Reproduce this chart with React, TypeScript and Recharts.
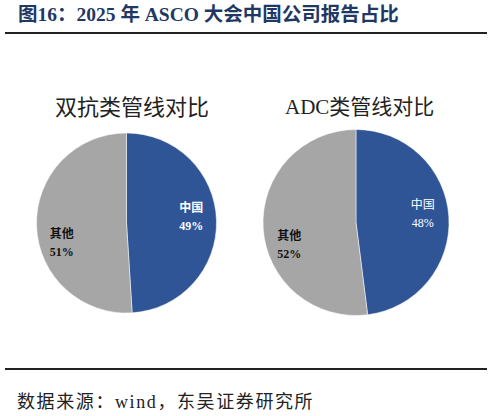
import React from 'react';
import { PieChart, Pie, Cell } from 'recharts';

// 双抗类 / ADC类 管线中国公司占比 (%)
const categories = ['中国', '其他'];
const bispecificValues = [49, 51];
const adcValues = [48, 52];

const COLORS = ['#2F5597', '#A6A6A6'];
const FONT = '"Liberation Serif", "Times New Roman", "Noto Sans CJK SC", serif';
const RADIAN = Math.PI / 180;

const toRows = (values: number[]) => categories.map((name, i) => ({ name, value: values[i] }));

const bispecificData = toRows(bispecificValues);
const adcData = toRows(adcValues);

function makeLabel(boldChina: boolean) {
  return (props: any) => {
    const { cx, cy, midAngle, outerRadius, name, value, index } = props;
    const r = outerRadius * 0.72;
    const x = cx + r * Math.cos(-midAngle * RADIAN);
    const y = cy + r * Math.sin(-midAngle * RADIAN) + (index === 1 ? 17 : -5);
    const isChina = index === 0;
    const bold = isChina ? boldChina : true;
    return (
      <text
        x={x}
        y={y}
        textAnchor="middle"
        fill={isChina ? '#ffffff' : '#111111'}
        fontSize={12}
        fontWeight={bold ? 700 : 400}
        fontFamily={FONT}
      >
        <tspan x={x} dy={-4}>{name}</tspan>
        <tspan x={x} dy={18}>{`${value}%`}</tspan>
      </text>
    );
  };
}

const textBase: React.CSSProperties = {
  position: 'absolute',
  whiteSpace: 'nowrap',
  lineHeight: 1,
  fontFamily: FONT,
};

export default function App() {
  return (
    <div style={{ position: 'absolute', left: 0, top: 0, width: 492, height: 416, background: '#fff', overflow: 'hidden' }}>
      <div style={{ ...textBase, left: 18, top: 5, fontSize: 19.5, fontWeight: 700, color: '#1F3864' }}>
        图16：2025 年 ASCO 大会中国公司报告占比
      </div>
      <div style={{ position: 'absolute', left: 5, top: 32, width: 482, height: 2, background: '#222' }} />

      <div style={{ ...textBase, left: 55, top: 97, fontSize: 22, color: '#222' }}>双抗类管线对比</div>
      <div style={{ ...textBase, left: 285, top: 97, fontSize: 21, color: '#222' }}>ADC类管线对比</div>

      <div style={{ position: 'absolute', left: 0, top: 0 }}>
        <PieChart width={492} height={416} margin={{ top: 0, right: 0, bottom: 0, left: 0 }}>
          <Pie
            data={bispecificData}
            dataKey="value"
            nameKey="name"
            cx={126.5}
            cy={223}
            outerRadius={90}
            startAngle={90}
            endAngle={-270}
            stroke="#ffffff"
            strokeWidth={0.5}
            labelLine={false}
            label={makeLabel(true)}
            isAnimationActive={false}
          >
            {bispecificData.map((d, i) => (
              <Cell key={d.name} fill={COLORS[i]} />
            ))}
          </Pie>
          <Pie
            data={adcData}
            dataKey="value"
            nameKey="name"
            cx={356}
            cy={222.5}
            outerRadius={93}
            startAngle={90}
            endAngle={-270}
            stroke="#ffffff"
            strokeWidth={0.5}
            labelLine={false}
            label={makeLabel(false)}
            isAnimationActive={false}
          >
            {adcData.map((d, i) => (
              <Cell key={d.name} fill={COLORS[i]} />
            ))}
          </Pie>
        </PieChart>
      </div>

      <div style={{ position: 'absolute', left: 5, top: 368, width: 482, height: 2, background: '#222' }} />
      <div style={{ ...textBase, left: 17, top: 393, fontSize: 18, letterSpacing: 1.6, color: '#222' }}>
        数据来源：wind，东吴证券研究所
      </div>
    </div>
  );
}
